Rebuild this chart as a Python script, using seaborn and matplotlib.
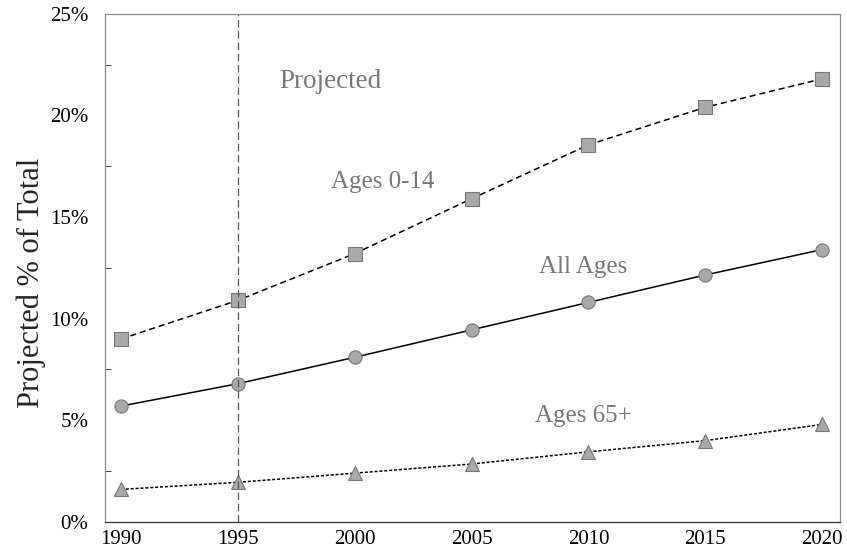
import pandas as pd
import seaborn as sns
import matplotlib.pyplot as plt
from matplotlib.ticker import MultipleLocator, FuncFormatter

# --- datos ---
anios = [1990, 1995, 2000, 2005, 2010, 2015, 2020]
edades_0_14 = [9.0, 10.9, 13.2, 15.9, 18.55, 20.4, 21.8]
todas = [5.7, 6.8, 8.1, 9.45, 10.8, 12.15, 13.4]
edades_65 = [1.6, 1.95, 2.4, 2.85, 3.45, 4.0, 4.8]

df = pd.DataFrame({'Anio': anios, 'Ages 0-14': edades_0_14,
                   'All Ages': todas, 'Ages 65+': edades_65})

sns.set_theme(style='white')
plt.rcParams['font.family'] = ['Liberation Serif', 'DejaVu Serif']

fig, ax = plt.subplots(figsize=(8.47, 5.5), dpi=100)
fig.subplots_adjust(left=0.124, right=0.992, top=0.975, bottom=0.051)

estilos = {
    'Ages 0-14': dict(ls=(0, (4, 2.5)), marker='s'),
    'All Ages': dict(ls='-', marker='o'),
    'Ages 65+': dict(ls=(0, (2, 1.2)), marker='^'),
}
for serie, st in estilos.items():
    sns.lineplot(data=df, x='Anio', y=serie, ax=ax, color='black', lw=1.1,
                 linestyle=st['ls'], marker=st['marker'], markersize=9.5,
                 markerfacecolor='#a9a9a9', markeredgecolor='#777777',
                 markeredgewidth=0.8)

# linea vertical de proyeccion
ax.axvline(1995, color='#555555', lw=0.9, ls=(0, (6, 3)))

ax.set_xlim(1989.32, 2020.77)
ax.set_ylim(0, 25)
ax.set_xticks(anios)
ax.yaxis.set_major_locator(MultipleLocator(5))
ax.yaxis.set_minor_locator(MultipleLocator(2.5))
ax.yaxis.set_major_formatter(FuncFormatter(lambda v, p: f'{v:.0f}%'))
ax.tick_params(axis='both', which='both', direction='in', labelsize=15,
               colors='#444444', labelcolor='black')
ax.tick_params(axis='y', which='major', length=8, width=1, pad=12)
ax.tick_params(axis='y', which='minor', length=4, width=0.7, left=True)
ax.tick_params(axis='x', which='major', length=6, width=0.7, pad=5.5)
for s in ax.spines.values():
    s.set_color('#888888')
    s.set_linewidth(0.9)
ax.spines['bottom'].set_color('#333333')

ax.set_xlabel('')
ax.set_ylabel('Projected % of Total', fontsize=22)
ax.yaxis.set_label_coords(-0.08, 0.47)

gris = '#777777'
ax.text(1998.94, 21.36, 'Projected', fontsize=19.5, color=gris, ha='center')
ax.text(2001.2, 16.44, 'Ages 0-14', fontsize=18, color=gris, ha='center')
ax.text(2009.77, 12.25, 'All Ages', fontsize=18, color=gris, ha='center')
ax.text(2009.77, 4.92, 'Ages 65+', fontsize=18, color=gris, ha='center')

plt.savefig('out.png', dpi=100)
